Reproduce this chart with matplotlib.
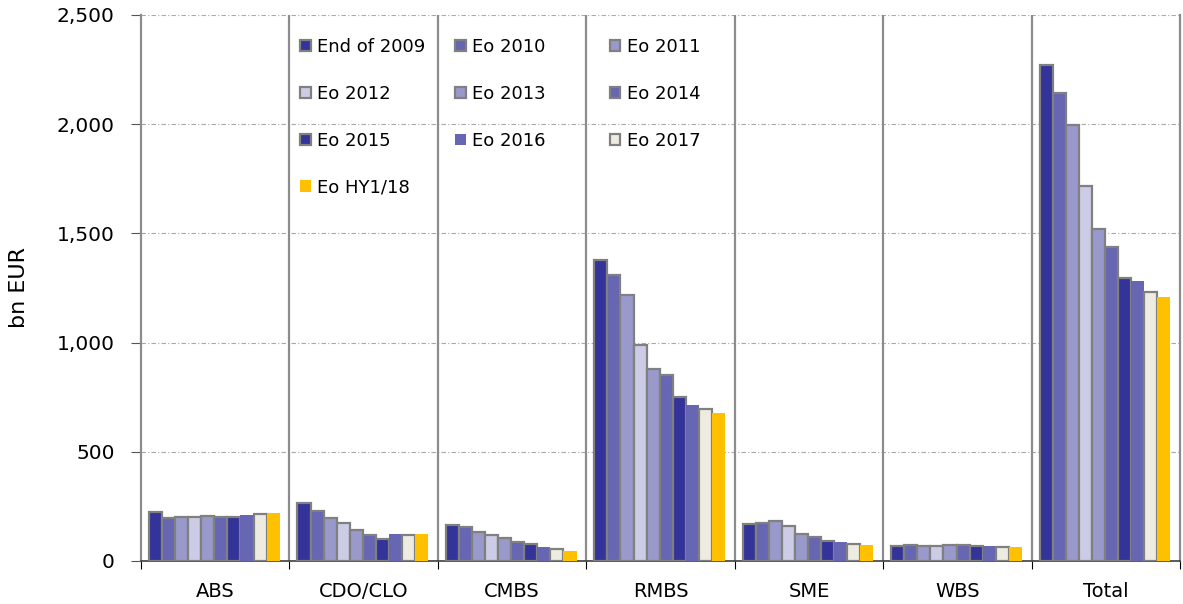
import numpy as np
import matplotlib
matplotlib.use("Agg")
from matplotlib import pyplot as plt
from matplotlib.patches import Patch
from matplotlib.legend import Legend

categories = ["ABS", "CDO/CLO", "CMBS", "RMBS", "SME", "WBS", "Total"]
series = ["End of 2009", "Eo 2010", "Eo 2011", "Eo 2012", "Eo 2013",
          "Eo 2014", "Eo 2015", "Eo 2016", "Eo 2017", "Eo HY1/18"]

# bn EUR outstanding, one list per category, ordered like `series`
abs_vals = [225, 198, 200, 200, 204, 200, 200, 210, 216, 218]
cdo_clo = [266, 231, 196, 174, 140, 117, 102, 125, 117, 125]
cmbs = [163, 155, 135, 118, 103, 87, 78, 65, 55, 48]
rmbs = [1376, 1311, 1216, 989, 879, 853, 752, 712, 696, 676]
sme = [168, 174, 181, 158, 122, 108, 93, 86, 77, 73]
wbs = [67, 71, 67, 68, 73, 73, 68, 68, 63, 62]
total = [2270, 2142, 1998, 1716, 1521, 1436, 1298, 1282, 1231, 1211]

yticks = [0, 500, 1000, 1500, 2000, 2500]

colors = ["#333399", "#6666b3", "#9999cc", "#ccccE6", "#9999cc",
          "#6666b3", "#333399", "#6666b3", "#eeece1", "#ffc000"]
edges = ["#808080"] * 7 + ["none", "#808080", "none"]

data = np.array([abs_vals, cdo_clo, cmbs, rmbs, sme, wbs, total])

plt.rcParams["font.family"] = "DejaVu Sans"
fig = plt.figure(figsize=(11.83, 6.04), dpi=100)
ax = fig.add_axes([0.1192, 0.0712, 0.8783, 0.904])

n = len(series)
bw = 0.088
off = 0.054
x = np.arange(len(categories))
handles = []
for i in range(n):
    ax.bar(x + off + bw * (i + 0.5), data[:, i], width=bw, color=colors[i],
           edgecolor=edges[i], linewidth=1.6, zorder=3)
    handles.append(Patch(facecolor=colors[i], edgecolor=edges[i],
                         linewidth=1.6, label=series[i]))

ax.set_xlim(0, len(categories))
ax.set_ylim(0, 2500)
ax.set_yticks(yticks)
ax.set_yticklabels([f"{v:,}" for v in yticks], fontsize=14.5)
for y in yticks[1:]:
    ax.axhline(y, color="#a8a8a8", linestyle=(0, (4, 2, 1, 2)),
               linewidth=0.8, zorder=1)
for k in range(1, len(categories)):
    ax.axvline(k, color="#8c8c8c", linewidth=1.6, zorder=2)

ax.set_xticks(np.arange(len(categories) + 1))
ax.set_xticklabels([])
ax.set_xticks(x + 0.5, minor=True)
ax.set_xticklabels(categories, minor=True, fontsize=14)
ax.tick_params(axis="x", which="minor", length=0, pad=15)
ax.tick_params(axis="x", which="major", length=6, color="black")
ax.tick_params(axis="y", length=7, color="#555555", pad=12)

for side in ["left", "right"]:
    ax.spines[side].set_color("#8c8c8c")
    ax.spines[side].set_linewidth(1.6)
ax.spines["top"].set_visible(False)
ax.spines["bottom"].set_color("#404040")
ax.spines["bottom"].set_linewidth(1.2)

ax.set_ylabel("bn EUR", fontsize=16, labelpad=20)

# three single-column legends so the columns sit on an even grid
cols = [[0, 3, 6, 9], [1, 4, 7], [2, 5, 8]]
col_x = [0.153, 0.302, 0.451]
for cx, idx in zip(col_x, cols):
    leg = Legend(ax, [handles[i] for i in idx], [series[i] for i in idx],
                 frameon=False, loc="upper left",
                 bbox_to_anchor=(cx, 0.958), fontsize=13,
                 borderpad=0, borderaxespad=0,
                 handlelength=0.6, handleheight=0.6, handletextpad=0.35,
                 labelspacing=1.6)
    ax.add_artist(leg)

fig.savefig("out.png", dpi=100)
